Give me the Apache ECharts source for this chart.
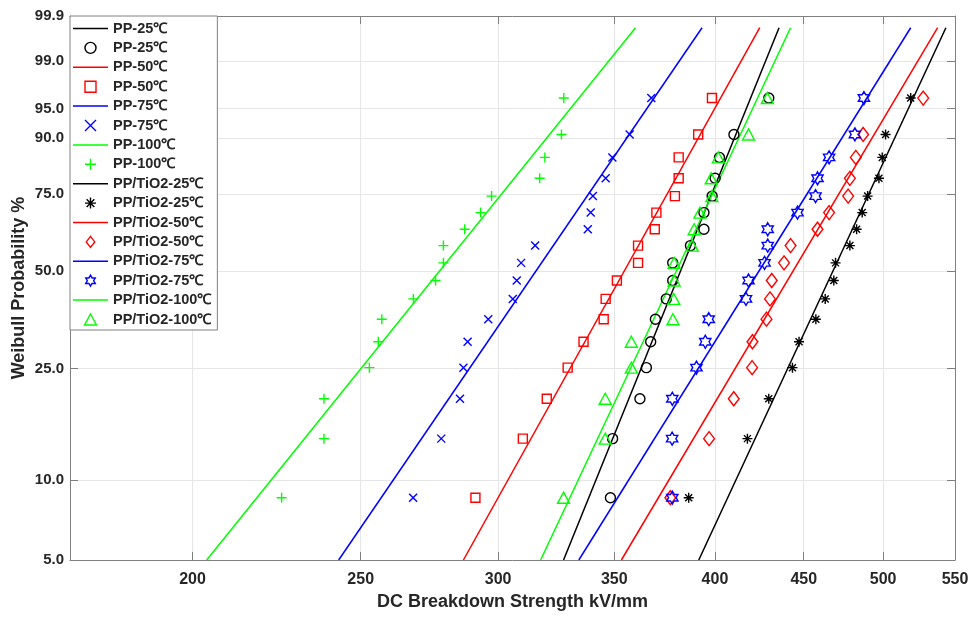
<!DOCTYPE html>
<html><head><meta charset="utf-8">
<script src="https://cdn.jsdelivr.net/npm/echarts@6/dist/echarts.min.js"></script>
<style>html,body{margin:0;padding:0;background:#fff}#c{width:973px;height:619px}</style>
</head><body><div id="c"></div>
<script>
// ---------- data ----------
const seriesNames = ['PP-25℃','PP-50℃','PP-75℃','PP-100℃','PP/TiO2-25℃','PP/TiO2-50℃','PP/TiO2-75℃','PP/TiO2-100℃'];
// cumulative failure probability (%) of the plotted ranks
const probLevels = [8.6, 14.2, 19.7, 25.2, 30.7, 36.2, 41.7, 47.1, 52.6, 58.2, 63.6, 69.1, 74.4, 79.8, 85.5, 90.7, 96.3];
// breakdown strengths (kV/mm)
const pp25  = [348.2, 349.2, 362.1, 365.2, 367.3, 369.6, 375.0, 378.2, 378.2, 387.2, 394.2, 394.2, 398.5, 400.1, 402.4, 410.2, 429.6];
const pp50  = [291.1, 310.0, 320.0, 329.0, 336.0, 345.1, 346.0, 351.2, 361.2, 361.2, 369.3, 370.1, 379.3, 381.2, 381.2, 391.2, 398.4];
const pp75  = [268.0, 278.2, 285.2, 286.5, 288.1, 296.1, 305.9, 307.5, 309.3, 315.1, 337.9, 339.2, 340.2, 346.0, 349.1, 357.2, 367.6];
const pp100 = [225.1, 238.1, 238.1, 252.9, 255.9, 257.1, 268.1, 276.1, 279.0, 279.0, 287.0, 293.1, 297.4, 317.0, 319.2, 326.3, 327.3];
const ti25  = [386.3, 417.6, 429.6, 443.3, 447.2, 457.3, 463.0, 468.3, 469.4, 478.4, 482.7, 486.3, 489.8, 497.2, 499.4, 501.6, 518.6];
const ti50  = [377.0, 396.9, 410.1, 420.2, 420.4, 428.3, 430.3, 431.3, 438.4, 442.2, 458.3, 465.4, 477.3, 478.4, 482.2, 486.9, 527.3];
const ti75  = [378.0, 377.9, 378.0, 390.3, 394.9, 396.7, 416.8, 418.2, 427.2, 429.0, 429.0, 446.3, 457.1, 458.3, 465.4, 481.6, 487.4];
const ti100 = [327.2, 345.8, 345.8, 358.0, 358.0, 378.3, 378.7, 378.9, 378.9, 388.1, 389.1, 392.1, 398.4, 398.0, 401.8, 418.2, 428.8];
// fitted Weibull lines: strength at the two end probabilities
const fitProb  = [5, 99.8];
const fitPP25  = [327.2, 435.5];
const fitPP50  = [286.5, 424.5];
const fitPP75  = [242.8, 393.2];
const fitPP100 = [203.8, 360.0];
const fitTi25  = [391.5, 543.4];
const fitTi50  = [353.3, 537.5];
const fitTi75  = [333.9, 518.6];
const fitTi100 = [317.4, 442.2];
// axes
const xTicks = [200, 250, 300, 350, 400, 450, 500, 550];
const yTicks = [5, 10, 25, 50, 75, 90, 95, 99, 99.9];
const xRange = [170, 550];
const yRange = [5, 99.9];

// ---------- styles ----------
const colors = ['#000000','#ff0000','#0000ff','#00ff00','#000000','#ff0000','#0000ff','#00ff00'];
const plusPath = 'path://M5,0L5,10M0,5L10,5';
const crossPath = 'path://M0,0L10,10M0,10L10,0';
const starPath = 'path://M5,0L5,10M0,5L10,5M1.5,1.5L8.5,8.5M1.5,8.5L8.5,1.5';
const hexPath = 'path://M10,0L12.887,5L18.66,5L15.774,10L18.66,15L12.887,15L10,20L7.113,15L1.34,15L4.226,10L1.34,5L7.113,5Z';
const diamondPath = 'path://M5,0L10,6.5L5,13L0,6.5Z';
const trianglePath = 'path://M6,0L12,11L0,11Z';
const squarePath = 'path://M0,0L10,0L10,10L0,10Z';
const symbols = ['circle', squarePath, crossPath, plusPath, starPath, diamondPath, hexPath, trianglePath];
const sizes = [10, 9, 8, 10, 10, 14, 13, 12];
const FONT = '"Liberation Sans", Arial, Helvetica, sans-serif';
const AX = '#808080';
const TXT = '#262626';

// ---------- transforms (Weibull paper) ----------
const tx = v => Math.log(v);
const ty = p => Math.log(-Math.log(1 - p / 100));
const xLabel = v => { const t = xTicks.find(t => Math.abs(tx(t) - v) < 1e-6); return t === undefined ? '' : String(t); };
const yLabel = v => { const t = yTicks.find(t => Math.abs(ty(t) - v) < 1e-6); return t === undefined ? '' : t.toFixed(1); };

const points = [pp25, pp50, pp75, pp100, ti25, ti50, ti75, ti100];
const fits = [fitPP25, fitPP50, fitPP75, fitPP100, fitTi25, fitTi50, fitTi75, fitTi100];

const series = [];
const legendData = [];
seriesNames.forEach((n, k) => {
  series.push({
    type: 'line', name: n + '|fit',
    data: fits[k].map((v, i) => [tx(v), ty(fitProb[i])]),
    symbol: 'none', silent: true,
    lineStyle: { color: colors[k], width: 1.5 },
    itemStyle: { color: colors[k] },
    z: 2
  });
  series.push({
    type: 'scatter', name: n + '|data',
    data: points[k].map((v, i) => [tx(v), ty(probLevels[i])]),
    symbol: symbols[k], symbolSize: sizes[k], symbolKeepAspect: true,
    itemStyle: { color: 'rgba(0,0,0,0)', borderColor: colors[k], borderWidth: 1.4, opacity: 1 },
    z: 3
  });
  legendData.push({ name: n + '|fit', icon: 'path://M0,0L35,0L35,1.5L0,1.5Z', itemStyle: { color: colors[k], borderWidth: 0 } });
  legendData.push({ name: n + '|data', itemStyle: { borderWidth: 1.4 } });
});

const xMin = tx(xRange[0]), xMax = tx(xRange[1]);
const yMin = ty(yRange[0]), yMax = ty(yRange[1]);
const tickStyle = { show: true, inside: true, length: 8, lineStyle: { color: AX, width: 1 } };

const option = {
  animation: false,
  backgroundColor: '#ffffff',
  textStyle: { fontFamily: FONT },
  grid: { left: 70, right: 18, top: 16, bottom: 59, containLabel: false, outerBoundsMode: 'none' },
  xAxis: [{
    type: 'value', min: xMin, max: xMax, position: 'bottom',
    axisLine: { show: true, onZero: false, lineStyle: { color: AX, width: 1 } },
    axisTick: Object.assign({}, tickStyle, { customValues: xTicks.map(tx) }),
    axisLabel: { customValues: xTicks.map(tx), formatter: xLabel, margin: 12, fontSize: 16, fontWeight: 'bold', color: TXT, fontFamily: FONT },
    splitLine: { show: true, lineStyle: { color: '#e6e6e6', width: 1 } },
    name: 'DC Breakdown Strength kV/mm', nameLocation: 'middle', nameGap: 33, nameMoveOverlap: false,
    nameTextStyle: { fontSize: 18, fontWeight: 'bold', color: TXT, fontFamily: FONT }
  }, {
    type: 'value', min: xMin, max: xMax, position: 'top',
    axisLine: { show: true, onZero: false, lineStyle: { color: AX, width: 1 } },
    axisTick: Object.assign({}, tickStyle, { customValues: xTicks.map(tx) }),
    axisLabel: { show: false }, splitLine: { show: false }
  }],
  yAxis: [{
    type: 'value', min: yMin, max: yMax, position: 'left',
    axisLine: { show: true, onZero: false, lineStyle: { color: AX, width: 1 } },
    axisTick: Object.assign({}, tickStyle, { customValues: yTicks.map(ty) }),
    axisLabel: { customValues: yTicks.map(ty), formatter: yLabel, margin: 6, fontSize: 15, fontWeight: 'bold', color: TXT, fontFamily: FONT },
    splitLine: { show: true, lineStyle: { color: '#e6e6e6', width: 1 } },
    name: 'Weibull Probability %', nameLocation: 'middle', nameGap: 42, nameMoveOverlap: false,
    nameTextStyle: { fontSize: 18, fontWeight: 'bold', color: TXT, fontFamily: FONT }
  }, {
    type: 'value', min: yMin, max: yMax, position: 'right',
    axisLine: { show: true, onZero: false, lineStyle: { color: AX, width: 1 } },
    axisTick: Object.assign({}, tickStyle, { customValues: yTicks.map(ty) }),
    axisLabel: { show: false }, splitLine: { show: false }
  }],
  legend: {
    show: true, orient: 'vertical', left: 70, top: 16,
    padding: [5, 6, 3, 3], itemGap: 4.4, itemWidth: 35, itemHeight: 11,
    backgroundColor: '#ffffff', borderColor: AX, borderWidth: 1, borderRadius: 0,
    selectedMode: false,
    textStyle: { fontSize: 14.5, fontWeight: 'bold', color: TXT, fontFamily: FONT },
    formatter: n => n.split('|')[0],
    data: legendData
  },
  series: series
};
const chart = echarts.init(document.getElementById('c'), null, { renderer: 'canvas' });
chart.setOption(option);
</script>
</body></html>
